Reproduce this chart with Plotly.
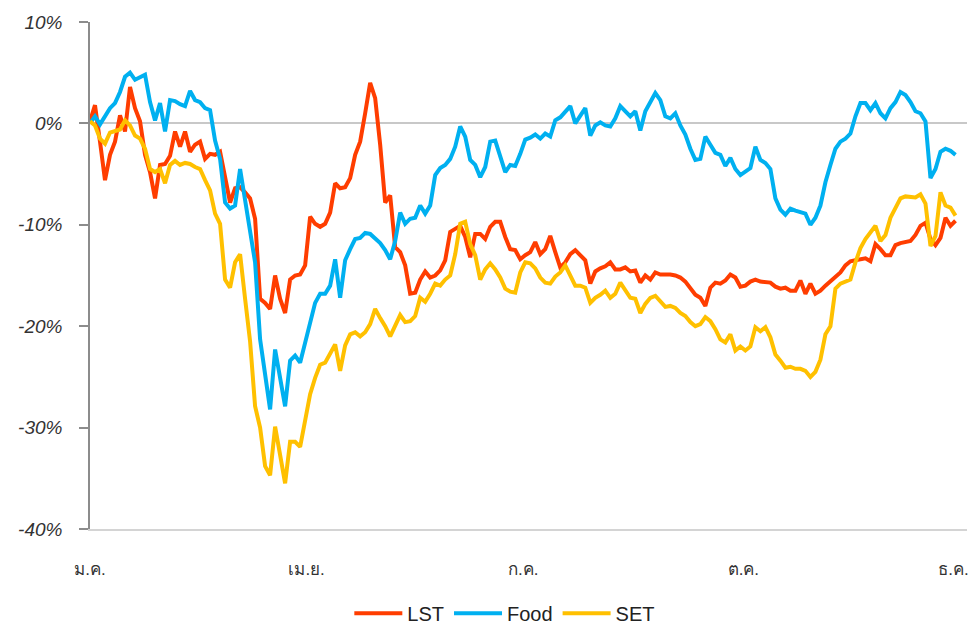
import plotly.graph_objects as go

# Cumulative return (%) sampled along the year (trading-day index)
lst = [0.2, 1.8, -1.8, -5.6, -3.1, -1.8, 0.8, -0.8, 3.6, 1.5, 0.2, -3.1, -4.8, -7.4, -4.1, -4.0, -3.2, -0.8, -2.3, -0.8,
       -2.8, -2.1, -1.8, -3.5, -3.0, -3.1, -2.8, -5.3, -7.8, -6.4, -6.3, -6.8, -7.4, -9.4, -17.3, -17.7, -18.3, -15.0, -17.3, -18.7,
       -15.4, -15.0, -14.9, -14.0, -9.2, -9.9, -10.2, -9.9, -8.8, -5.9, -6.4, -6.3, -5.4, -3.1, -1.8, 1.0, 4.0, 2.5, -2.1, -7.8,
       -7.1, -12.2, -12.7, -14.0, -16.8, -16.7, -15.4, -14.6, -15.2, -15.0, -14.5, -13.5, -10.7, -10.4, -10.1, -11.2, -13.2, -10.9, -10.9, -11.4,
       -10.2, -9.7, -9.7, -11.2, -12.4, -12.5, -13.4, -13.0, -12.7, -11.7, -12.9, -12.4, -11.1, -12.7, -14.2, -13.7, -12.9, -12.5, -13.0, -13.5,
       -15.8, -14.6, -14.3, -14.1, -13.7, -14.4, -14.4, -14.2, -14.6, -14.5, -15.7, -15.0, -15.4, -14.7, -14.9, -14.9, -14.9, -15.0, -15.2, -15.6,
       -16.2, -16.9, -17.2, -18.0, -16.2, -15.7, -15.8, -15.5, -14.9, -15.2, -16.1, -16.0, -15.6, -15.4, -15.6, -15.7, -15.7, -16.1, -16.3, -16.2,
       -16.5, -16.5, -15.5, -16.8, -15.8, -16.8, -16.5, -16.0, -15.6, -15.2, -14.7, -14.0, -13.6, -13.5, -13.4, -13.3, -13.6, -11.9, -12.4, -13.0,
       -13.0, -12.0, -11.8, -11.7, -11.6, -11.0, -10.1, -9.8, -11.4, -12.0, -11.3, -9.3, -10.1, -9.6]

food = [0.0, 0.7, -0.1, 0.8, 1.5, 2.0, 3.1, 4.6, 5.0, 4.3, 4.5, 4.8, 2.1, 0.3, 2.0, -0.8, 2.3, 2.2, 1.9, 1.7,
        3.2, 2.3, 2.1, 1.5, 1.3, -1.7, -3.5, -7.8, -8.4, -8.1, -4.5, -7.4, -10.7, -13.7, -21.3, -25.1, -28.2, -22.3, -24.9, -27.9,
        -23.4, -22.9, -23.6, -21.6, -19.3, -17.7, -16.8, -16.8, -16.0, -13.4, -17.2, -13.5, -12.4, -11.4, -11.3, -10.8, -10.9, -11.3, -11.8, -12.5,
        -13.4, -11.6, -8.8, -9.9, -9.4, -9.3, -8.1, -8.9, -8.1, -5.1, -4.4, -4.1, -3.5, -2.3, -0.3, -1.3, -3.6, -4.1, -5.3, -4.3,
        -1.8, -1.7, -3.3, -4.8, -4.1, -4.2, -3.0, -1.6, -1.4, -1.1, -1.5, -1.0, -1.3, 0.3, 0.6, 1.2, 1.7, 0.0, 0.8, 1.5,
        -1.2, -0.2, 0.1, -0.2, -0.3, 0.5, 1.7, 1.2, 0.7, 1.2, -0.7, 1.2, 2.2, 3.0, 2.3, 0.7, 0.5, 1.0, -0.2, -1.1,
        -2.5, -3.6, -3.5, -1.3, -2.1, -2.9, -3.1, -4.2, -3.4, -4.5, -5.1, -4.7, -4.4, -2.3, -3.6, -3.9, -4.5, -7.4, -8.5, -9.0,
        -8.4, -8.6, -8.75, -8.9, -10.0, -9.3, -8.1, -5.8, -4.1, -2.5, -1.8, -1.5, -1.0, 0.7, 2.0, 2.0, 1.3, 2.0, 1.0, 0.5,
        1.5, 2.1, 3.1, 2.8, 2.1, 1.2, 1.0, 0.2, -5.4, -4.5, -2.8, -2.5, -2.7, -3.1]

set_index = [0.2, -0.2, -1.5, -2.0, -0.9, -0.7, -0.6, 0.3, -0.2, -1.2, -1.5, -2.5, -4.5, -4.8, -4.5, -5.9, -4.1, -3.7, -4.1, -3.9,
             -4.0, -4.3, -4.5, -5.6, -6.6, -8.9, -9.9, -15.4, -16.2, -13.7, -12.9, -17.3, -21.5, -27.9, -30.0, -33.8, -34.7, -29.9, -32.8, -35.5,
             -31.4, -31.4, -31.9, -29.3, -26.7, -25.1, -23.8, -23.6, -22.6, -21.8, -24.4, -21.9, -20.8, -20.6, -21.0, -20.6, -19.8, -18.3, -19.2, -20.0,
             -21.0, -20.0, -18.9, -19.6, -19.5, -19.0, -17.2, -17.6, -16.8, -15.8, -16.0, -15.4, -15.0, -12.9, -9.9, -9.7, -11.9, -13.0, -15.4, -14.4,
             -13.8, -14.4, -15.2, -16.3, -16.6, -16.7, -14.7, -13.7, -13.8, -14.3, -15.2, -15.7, -15.8, -15.1, -14.7, -14.0, -14.9, -16.0, -16.0, -16.2,
             -17.7, -17.2, -16.9, -16.5, -17.2, -16.8, -15.7, -16.5, -17.2, -17.3, -18.7, -17.8, -17.2, -17.0, -17.6, -18.1, -18.0, -18.2, -18.7, -19.0,
             -19.6, -20.0, -19.8, -19.1, -19.5, -20.3, -21.3, -21.6, -20.8, -22.4, -22.0, -22.4, -22.0, -20.1, -20.5, -20.1, -21.1, -22.8, -23.4, -24.1,
             -24.0, -24.2, -24.2, -24.4, -25.0, -24.5, -23.3, -20.8, -20.0, -16.3, -15.8, -15.6, -15.4, -13.7, -12.3, -11.4, -10.7, -10.1, -11.6, -11.0,
             -9.3, -8.4, -7.4, -7.2, -7.3, -7.3, -7.0, -7.9, -12.1, -11.1, -6.8, -8.1, -8.3, -9.1]

days = list(range(len(lst)))

month_ticks = [0, 43.3, 86.6, 130.6, 172.6]
month_labels = ["ม.ค.", "เม.ย.", "ก.ค.", "ต.ค.", "ธ.ค."]

y_ticks = [-40, -30, -20, -10, 0, 10]
y_labels = ["-40%", "-30%", "-20%", "-10%", "0%", "10%"]

series = [("LST", lst, "#FF3D00"), ("Food", food, "#00B0F0"), ("SET", set_index, "#FFC000")]

fig = go.Figure()
for name, vals, color in series:
    fig.add_trace(go.Scatter(x=days, y=vals, mode="lines", name=name,
                             line=dict(color=color, width=4)))

fig.update_layout(
    width=979, height=628,
    margin=dict(l=90, r=12, t=22, b=99, autoexpand=False),
    plot_bgcolor="white", paper_bgcolor="white",
    font=dict(family="Liberation Sans, Arial, sans-serif", color="#333333"),
    showlegend=True,
    legend=dict(orientation="h", x=0.473, xanchor="center", y=-0.166, yanchor="middle",
                font=dict(size=20, color="#222222"), itemwidth=48, tracegroupgap=0),
)
fig.update_xaxes(range=[0, 175.3], tickvals=month_ticks, ticktext=month_labels, automargin=False,
                 showgrid=False, zeroline=False, showline=True, linecolor="#d4d4d4", linewidth=2,
                 ticks="", ticklabelstandoff=24, tickfont=dict(size=17, color="#333333"))
fig.update_yaxes(range=[-40, 10], tickvals=y_ticks, ticktext=y_labels, automargin=False,
                 showgrid=False, zeroline=True, zerolinecolor="#c8c8c8", zerolinewidth=2,
                 showline=True, linecolor="#8c8c8c", linewidth=1.5,
                 ticks="outside", ticklen=9, tickcolor="#8c8c8c", tickwidth=1.5,
                 ticklabelstandoff=13,
                 tickfont=dict(size=19, color="#333333", style="italic"))

fig.write_html("out.html", config={"displayModeBar": False},
               post_script="document.body.style.margin='0';document.body.style.overflow='hidden';")
